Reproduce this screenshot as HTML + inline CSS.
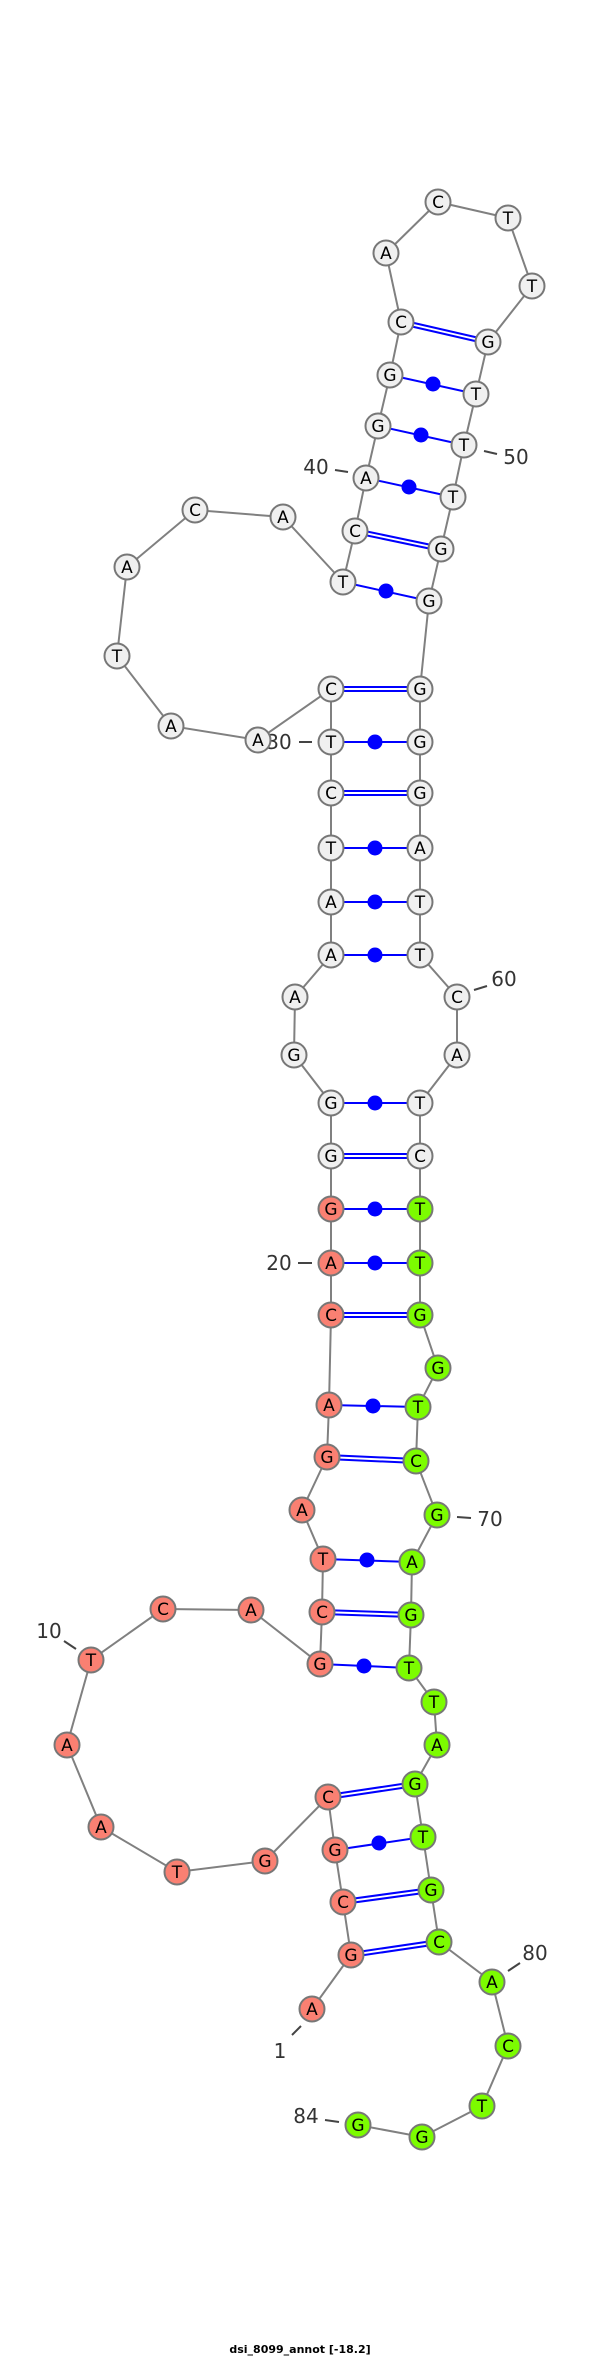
<!DOCTYPE html>
<html><head><meta charset="utf-8"><style>
html,body{margin:0;padding:0;background:#fff}
svg{display:block}
.n text{font-family:"DejaVu Sans","Liberation Sans",sans-serif;font-size:17px;text-anchor:middle}
</style></head><body>
<svg width="600" height="2358" viewBox="0 0 600 2358" xmlns="http://www.w3.org/2000/svg">
<polyline fill="none" stroke="#808080" stroke-width="2" points="312,2009 351,1955 343,1902 335,1850 328,1797 265,1861 177,1872 101,1827 67,1745 91,1660 163,1609 251,1610 320,1664 322,1612 323,1559 302,1510 327,1457 329,1405 331,1315 331,1263 331,1209 331,1156 331,1103 294,1055 295,997 331,955 331,902 331,848 331,793 331,742 331,689 258,740 171,726 117,656 127,567 195,510 283,517 343,582 355,531 366,478 378,426 390,375 401,322 386,253 438,202 508,218 532,286 488,342 476,394 464,445 453,497 441,549 429,601 420,689 420,742 420,793 420,848 420,902 420,955 457,997 457,1055 420,1103 420,1156 420,1209 420,1263 420,1315 438,1368 418,1407 416,1461 437,1515 412,1562 411,1615 409,1668 434,1702 437,1745 415,1784 423,1837 431,1890 439,1942 492,1982 508,2046 482,2106 422,2137 358,2125"/>
<g stroke="#0000ff" stroke-width="2" fill="none">
<!-- double (GC) -->
<path d="M351,1953 L439,1940 M351,1957 L439,1944"/>
<path d="M343,1900 L431,1888 M343,1904 L431,1892"/>
<path d="M328,1795 L415,1782 M328,1799 L415,1786"/>
<path d="M322,1610 L411,1613 M322,1614 L411,1617"/>
<path d="M327,1455 L416,1459 M327,1459 L416,1463"/>
<path d="M331,1313 L420,1313 M331,1317 L420,1317"/>
<path d="M331,1154 L420,1154 M331,1158 L420,1158"/>
<path d="M331,791 L420,791 M331,795 L420,795"/>
<path d="M331,687 L420,687 M331,691 L420,691"/>
<path d="M355,529 L441,547 M355,533 L441,551"/>
<path d="M401,320 L488,340 M401,324 L488,344"/>
<!-- single -->
<path d="M335,1850 L423,1837 M320,1664 L409,1668 M323,1559 L412,1562 M329,1405 L418,1407 M331,1263 L420,1263 M331,1209 L420,1209 M331,1103 L420,1103 M331,955 L420,955 M331,902 L420,902 M331,848 L420,848 M331,742 L420,742 M343,582 L429,601 M366,478 L453,497 M378,426 L464,445 M390,375 L476,394"/>
</g>
<g fill="#0000ff">
<circle cx="379" cy="1843" r="7.5"/><circle cx="364" cy="1666" r="7.5"/><circle cx="367" cy="1560" r="7.5"/><circle cx="373" cy="1406" r="7.5"/><circle cx="375" cy="1263" r="7.5"/><circle cx="375" cy="1209" r="7.5"/><circle cx="375" cy="1103" r="7.5"/><circle cx="375" cy="955" r="7.5"/><circle cx="375" cy="902" r="7.5"/><circle cx="375" cy="848" r="7.5"/><circle cx="375" cy="742" r="7.5"/><circle cx="386" cy="591" r="7.5"/><circle cx="409" cy="487" r="7.5"/><circle cx="421" cy="435" r="7.5"/><circle cx="433" cy="384" r="7.5"/>
</g>
<g stroke="#444" stroke-width="2">
<path d="M335,470 L348,472 M484,451 L497,454 M299,742 L312,742 M474,990 L487,986 M298,1263 L312,1263 M457,1517 L471,1518 M64,1641 L76,1649 M508,1971 L520,1963 M292,2035 L301,2026 M325,2120 L339,2122"/>
</g>
<g font-family="DejaVu Sans, Liberation Sans, sans-serif" font-size="20" fill="#333" text-anchor="middle">
<text x="316" y="474">40</text><text x="516" y="464">50</text><text x="279" y="749">30</text><text x="504" y="986">60</text><text x="279" y="1270">20</text><text x="490" y="1526">70</text><text x="49" y="1638">10</text><text x="535" y="1960">80</text><text x="280" y="2058">1</text><text x="306" y="2123">84</text>
</g>
<g class="n" stroke="#777" stroke-width="2">
<g fill="#fa8072">
<circle cx="312" cy="2009" r="12.5"/><circle cx="351" cy="1955" r="12.5"/><circle cx="343" cy="1902" r="12.5"/><circle cx="335" cy="1850" r="12.5"/><circle cx="328" cy="1797" r="12.5"/><circle cx="265" cy="1861" r="12.5"/><circle cx="177" cy="1872" r="12.5"/><circle cx="101" cy="1827" r="12.5"/><circle cx="67" cy="1745" r="12.5"/><circle cx="91" cy="1660" r="12.5"/><circle cx="163" cy="1609" r="12.5"/><circle cx="251" cy="1610" r="12.5"/><circle cx="320" cy="1664" r="12.5"/><circle cx="322" cy="1612" r="12.5"/><circle cx="323" cy="1559" r="12.5"/><circle cx="302" cy="1510" r="12.5"/><circle cx="327" cy="1457" r="12.5"/><circle cx="329" cy="1405" r="12.5"/><circle cx="331" cy="1315" r="12.5"/><circle cx="331" cy="1263" r="12.5"/><circle cx="331" cy="1209" r="12.5"/>
</g>
<g fill="#f0f0f0">
<circle cx="331" cy="1156" r="12.5"/><circle cx="331" cy="1103" r="12.5"/><circle cx="294" cy="1055" r="12.5"/><circle cx="295" cy="997" r="12.5"/><circle cx="331" cy="955" r="12.5"/><circle cx="331" cy="902" r="12.5"/><circle cx="331" cy="848" r="12.5"/><circle cx="331" cy="793" r="12.5"/><circle cx="331" cy="742" r="12.5"/><circle cx="331" cy="689" r="12.5"/><circle cx="258" cy="740" r="12.5"/><circle cx="171" cy="726" r="12.5"/><circle cx="117" cy="656" r="12.5"/><circle cx="127" cy="567" r="12.5"/><circle cx="195" cy="510" r="12.5"/><circle cx="283" cy="517" r="12.5"/><circle cx="343" cy="582" r="12.5"/><circle cx="355" cy="531" r="12.5"/><circle cx="366" cy="478" r="12.5"/><circle cx="378" cy="426" r="12.5"/><circle cx="390" cy="375" r="12.5"/><circle cx="401" cy="322" r="12.5"/><circle cx="386" cy="253" r="12.5"/><circle cx="438" cy="202" r="12.5"/><circle cx="508" cy="218" r="12.5"/><circle cx="532" cy="286" r="12.5"/><circle cx="488" cy="342" r="12.5"/><circle cx="476" cy="394" r="12.5"/><circle cx="464" cy="445" r="12.5"/><circle cx="453" cy="497" r="12.5"/><circle cx="441" cy="549" r="12.5"/><circle cx="429" cy="601" r="12.5"/><circle cx="420" cy="689" r="12.5"/><circle cx="420" cy="742" r="12.5"/><circle cx="420" cy="793" r="12.5"/><circle cx="420" cy="848" r="12.5"/><circle cx="420" cy="902" r="12.5"/><circle cx="420" cy="955" r="12.5"/><circle cx="457" cy="997" r="12.5"/><circle cx="457" cy="1055" r="12.5"/><circle cx="420" cy="1103" r="12.5"/><circle cx="420" cy="1156" r="12.5"/>
</g>
<g fill="#7cfc00">
<circle cx="420" cy="1209" r="12.5"/><circle cx="420" cy="1263" r="12.5"/><circle cx="420" cy="1315" r="12.5"/><circle cx="438" cy="1368" r="12.5"/><circle cx="418" cy="1407" r="12.5"/><circle cx="416" cy="1461" r="12.5"/><circle cx="437" cy="1515" r="12.5"/><circle cx="412" cy="1562" r="12.5"/><circle cx="411" cy="1615" r="12.5"/><circle cx="409" cy="1668" r="12.5"/><circle cx="434" cy="1702" r="12.5"/><circle cx="437" cy="1745" r="12.5"/><circle cx="415" cy="1784" r="12.5"/><circle cx="423" cy="1837" r="12.5"/><circle cx="431" cy="1890" r="12.5"/><circle cx="439" cy="1942" r="12.5"/><circle cx="492" cy="1982" r="12.5"/><circle cx="508" cy="2046" r="12.5"/><circle cx="482" cy="2106" r="12.5"/><circle cx="422" cy="2137" r="12.5"/><circle cx="358" cy="2125" r="12.5"/>
</g>
<g fill="#000" stroke="none">
<text x="312" y="2015">A</text><text x="351" y="1961">G</text><text x="343" y="1908">C</text><text x="335" y="1856">G</text><text x="328" y="1803">C</text><text x="265" y="1867">G</text><text x="177" y="1878">T</text><text x="101" y="1833">A</text><text x="67" y="1751">A</text><text x="91" y="1666">T</text><text x="163" y="1615">C</text><text x="251" y="1616">A</text><text x="320" y="1670">G</text><text x="322" y="1618">C</text><text x="323" y="1565">T</text><text x="302" y="1516">A</text><text x="327" y="1463">G</text><text x="329" y="1411">A</text><text x="331" y="1321">C</text><text x="331" y="1269">A</text><text x="331" y="1215">G</text>
<text x="331" y="1162">G</text><text x="331" y="1109">G</text><text x="294" y="1061">G</text><text x="295" y="1003">A</text><text x="331" y="961">A</text><text x="331" y="908">A</text><text x="331" y="854">T</text><text x="331" y="799">C</text><text x="331" y="748">T</text><text x="331" y="695">C</text><text x="258" y="746">A</text><text x="171" y="732">A</text><text x="117" y="662">T</text><text x="127" y="573">A</text><text x="195" y="516">C</text><text x="283" y="523">A</text><text x="343" y="588">T</text><text x="355" y="537">C</text><text x="366" y="484">A</text><text x="378" y="432">G</text><text x="390" y="381">G</text><text x="401" y="328">C</text><text x="386" y="259">A</text><text x="438" y="208">C</text><text x="508" y="224">T</text><text x="532" y="292">T</text><text x="488" y="348">G</text><text x="476" y="400">T</text><text x="464" y="451">T</text><text x="453" y="503">T</text><text x="441" y="555">G</text><text x="429" y="607">G</text><text x="420" y="695">G</text><text x="420" y="748">G</text><text x="420" y="799">G</text><text x="420" y="854">A</text><text x="420" y="908">T</text><text x="420" y="961">T</text><text x="457" y="1003">C</text><text x="457" y="1061">A</text><text x="420" y="1109">T</text><text x="420" y="1162">C</text>
<text x="420" y="1215">T</text><text x="420" y="1269">T</text><text x="420" y="1321">G</text><text x="438" y="1374">G</text><text x="418" y="1413">T</text><text x="416" y="1467">C</text><text x="437" y="1521">G</text><text x="412" y="1568">A</text><text x="411" y="1621">G</text><text x="409" y="1674">T</text><text x="434" y="1708">T</text><text x="437" y="1751">A</text><text x="415" y="1790">G</text><text x="423" y="1843">T</text><text x="431" y="1896">G</text><text x="439" y="1948">C</text><text x="492" y="1988">A</text><text x="508" y="2052">C</text><text x="482" y="2112">T</text><text x="422" y="2143">G</text><text x="358" y="2131">G</text>
</g>
</g>
<text x="300" y="2353" font-family="DejaVu Sans, Liberation Sans, sans-serif" font-size="11" font-weight="bold" text-anchor="middle" fill="#000">dsi_8099_annot [-18.2]</text>
</svg>
</body></html>
